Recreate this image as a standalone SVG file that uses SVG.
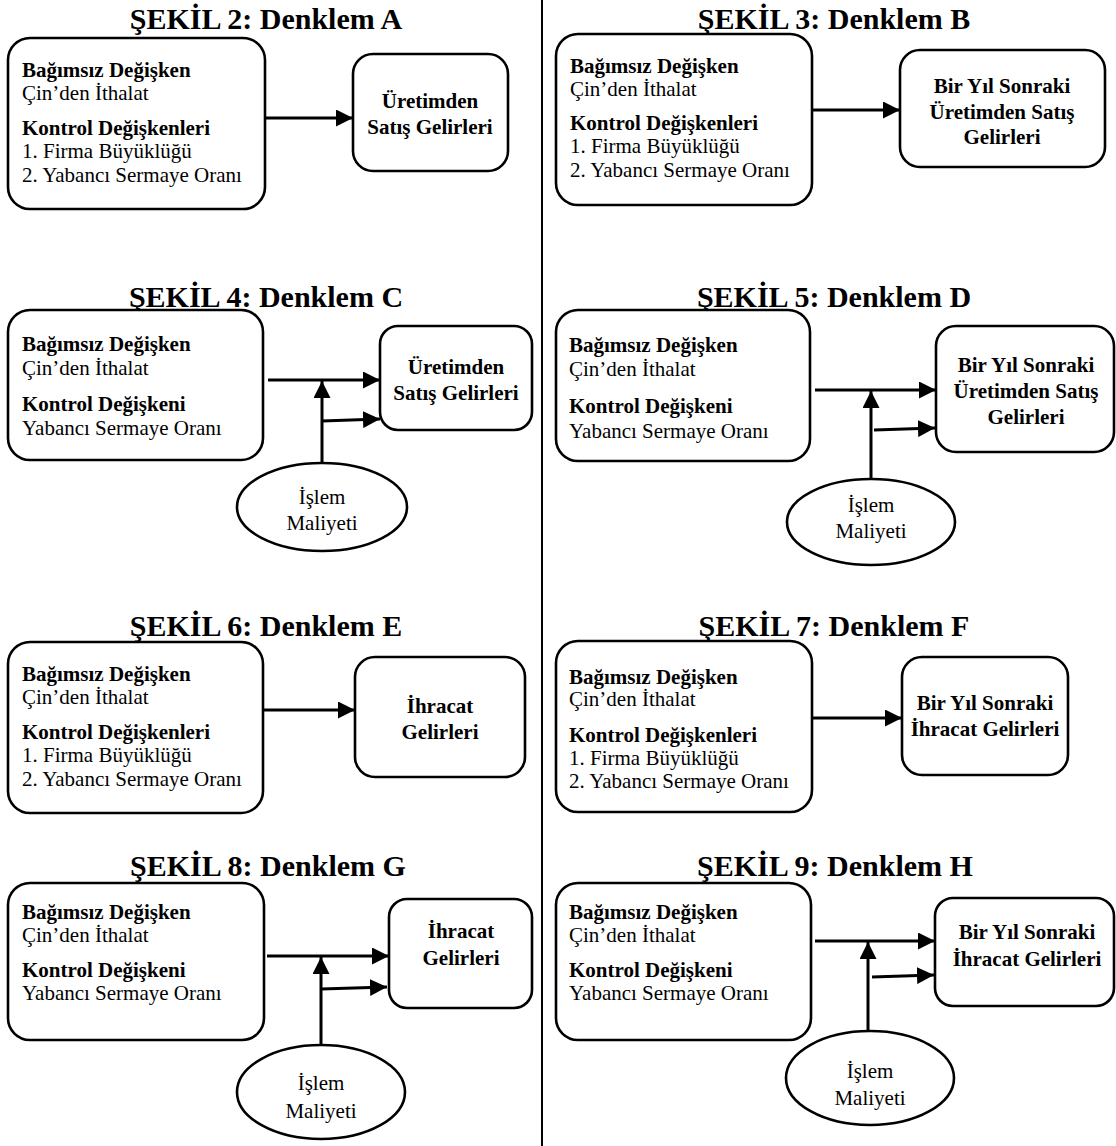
<svg xmlns="http://www.w3.org/2000/svg" width="1116" height="1146" viewBox="0 0 1116 1146">
<style>
.bg{fill:#fff}
.box{fill:#fff;stroke:#000;stroke-width:2.6}
.title{font-family:"Liberation Serif","Times New Roman",serif;font-weight:bold;font-size:30px;text-anchor:middle;fill:#000}
.b{font-family:"Liberation Serif","Times New Roman",serif;font-weight:bold;font-size:21px;fill:#000}
.r{font-family:"Liberation Serif","Times New Roman",serif;font-size:21px;fill:#000}
.c{text-anchor:middle}
.conn line{stroke:#000;stroke-width:3;fill:none}
.div{stroke:#000;stroke-width:2}
</style>
<defs>
<marker id="ah" markerUnits="userSpaceOnUse" markerWidth="17" markerHeight="17" refX="17" refY="8.5" orient="auto">
<path d="M0,0 L17,8.5 L0,17 z" fill="#000"/>
</marker>
</defs>
<rect class="bg" x="0" y="0" width="1116" height="1146"/>
<line class="div" x1="542" y1="0" x2="542" y2="1146"/>

<!-- Row 1 left: A -->
<text class="title" x="266" y="29">ŞEKİL 2: Denklem A</text>
<g id="A-src">
<rect class="box" x="8" y="38" width="257" height="171" rx="22"/>
<text class="b" x="22" y="77">Bağımsız Değişken</text>
<text class="r" x="22" y="100">Çin’den İthalat</text>
<text class="b" x="22" y="135">Kontrol Değişkenleri</text>
<text class="r" x="22" y="158">1. Firma Büyüklüğü</text>
<text class="r" x="22" y="182">2. Yabancı Sermaye Oranı</text>
</g>
<g id="A-dst">
<rect class="box" x="353" y="54" width="155" height="117" rx="20"/>
<text class="b c" x="430" y="108">Üretimden</text>
<text class="b c" x="430" y="134">Satış Gelirleri</text>
</g>

<!-- Row 1 right: B -->
<text class="title" x="834" y="29">ŞEKİL 3: Denklem B</text>
<g id="B-src">
<rect class="box" x="556" y="34" width="256" height="171" rx="22"/>
<text class="b" x="570" y="73">Bağımsız Değişken</text>
<text class="r" x="570" y="96">Çin’den İthalat</text>
<text class="b" x="570" y="130">Kontrol Değişkenleri</text>
<text class="r" x="570" y="153">1. Firma Büyüklüğü</text>
<text class="r" x="570" y="177">2. Yabancı Sermaye Oranı</text>
</g>
<g id="B-dst">
<rect class="box" x="900" y="50" width="205" height="117" rx="20"/>
<text class="b c" x="1002" y="93">Bir Yıl Sonraki</text>
<text class="b c" x="1002" y="119">Üretimden Satış</text>
<text class="b c" x="1002" y="144">Gelirleri</text>
</g>

<!-- Row 2 left: C -->
<text class="title" x="266" y="307">ŞEKİL 4: Denklem C</text>
<g id="C-src">
<rect class="box" x="8" y="310" width="255" height="150" rx="22"/>
<text class="b" x="22" y="351">Bağımsız Değişken</text>
<text class="r" x="22" y="375">Çin’den İthalat</text>
<text class="b" x="22" y="411">Kontrol Değişkeni</text>
<text class="r" x="22" y="435">Yabancı Sermaye Oranı</text>
</g>
<g id="C-dst">
<rect class="box" x="380" y="326" width="152" height="104" rx="18"/>
<text class="b c" x="456" y="374">Üretimden</text>
<text class="b c" x="456" y="400">Satış Gelirleri</text>
</g>
<g id="C-mod">
<ellipse class="box" cx="322" cy="507" rx="85" ry="44"/>
<text class="r c" x="322" y="504">İşlem</text>
<text class="r c" x="322" y="530">Maliyeti</text>
</g>

<!-- Row 2 right: D -->
<text class="title" x="834" y="307">ŞEKİL 5: Denklem D</text>
<g id="D-src">
<rect class="box" x="556" y="310" width="254" height="151" rx="22"/>
<text class="b" x="569" y="352">Bağımsız Değişken</text>
<text class="r" x="569" y="376">Çin’den İthalat</text>
<text class="b" x="569" y="413">Kontrol Değişkeni</text>
<text class="r" x="569" y="438">Yabancı Sermaye Oranı</text>
</g>
<g id="D-dst">
<rect class="box" x="936" y="326" width="178" height="126" rx="20"/>
<text class="b c" x="1026" y="372">Bir Yıl Sonraki</text>
<text class="b c" x="1026" y="398">Üretimden Satış</text>
<text class="b c" x="1026" y="424">Gelirleri</text>
</g>
<g id="D-mod">
<ellipse class="box" cx="871" cy="522" rx="84" ry="43"/>
<text class="r c" x="871" y="512">İşlem</text>
<text class="r c" x="871" y="538">Maliyeti</text>
</g>

<!-- Row 3 left: E -->
<text class="title" x="266" y="636">ŞEKİL 6: Denklem E</text>
<g id="E-src">
<rect class="box" x="8" y="642" width="255" height="171" rx="22"/>
<text class="b" x="22" y="681">Bağımsız Değişken</text>
<text class="r" x="22" y="704">Çin’den İthalat</text>
<text class="b" x="22" y="739">Kontrol Değişkenleri</text>
<text class="r" x="22" y="762">1. Firma Büyüklüğü</text>
<text class="r" x="22" y="786">2. Yabancı Sermaye Oranı</text>
</g>
<g id="E-dst">
<rect class="box" x="355" y="657" width="170" height="120" rx="20"/>
<text class="b c" x="440" y="713">İhracat</text>
<text class="b c" x="440" y="739">Gelirleri</text>
</g>

<!-- Row 3 right: F -->
<text class="title" x="834" y="636">ŞEKİL 7: Denklem F</text>
<g id="F-src">
<rect class="box" x="556" y="641" width="256" height="171" rx="22"/>
<text class="b" x="569" y="684">Bağımsız Değişken</text>
<text class="r" x="569" y="706">Çin’den İthalat</text>
<text class="b" x="569" y="742">Kontrol Değişkenleri</text>
<text class="r" x="569" y="765">1. Firma Büyüklüğü</text>
<text class="r" x="569" y="788">2. Yabancı Sermaye Oranı</text>
</g>
<g id="F-dst">
<rect class="box" x="902" y="657" width="166" height="118" rx="20"/>
<text class="b c" x="985" y="710">Bir Yıl Sonraki</text>
<text class="b c" x="985" y="736">İhracat Gelirleri</text>
</g>

<!-- Row 4 left: G -->
<text class="title" x="268" y="876">ŞEKİL 8: Denklem G</text>
<g id="G-src">
<rect class="box" x="8" y="883" width="256" height="157" rx="22"/>
<text class="b" x="22" y="919">Bağımsız Değişken</text>
<text class="r" x="22" y="942">Çin’den İthalat</text>
<text class="b" x="22" y="977">Kontrol Değişkeni</text>
<text class="r" x="22" y="1000">Yabancı Sermaye Oranı</text>
</g>
<g id="G-dst">
<rect class="box" x="389" y="899" width="143" height="109" rx="18"/>
<text class="b c" x="461" y="938">İhracat</text>
<text class="b c" x="461" y="965">Gelirleri</text>
</g>
<g id="G-mod">
<ellipse class="box" cx="321" cy="1092" rx="84" ry="47"/>
<text class="r c" x="321" y="1090">İşlem</text>
<text class="r c" x="321" y="1118">Maliyeti</text>
</g>

<!-- Row 4 right: H -->
<text class="title" x="835" y="876">ŞEKİL 9: Denklem H</text>
<g id="H-src">
<rect class="box" x="556" y="883" width="255" height="157" rx="22"/>
<text class="b" x="569" y="919">Bağımsız Değişken</text>
<text class="r" x="569" y="942">Çin’den İthalat</text>
<text class="b" x="569" y="977">Kontrol Değişkeni</text>
<text class="r" x="569" y="1000">Yabancı Sermaye Oranı</text>
</g>
<g id="H-dst">
<rect class="box" x="935" y="898" width="179" height="108" rx="18"/>
<text class="b c" x="1027" y="939">Bir Yıl Sonraki</text>
<text class="b c" x="1027" y="966">İhracat Gelirleri</text>
</g>
<g id="H-mod">
<ellipse class="box" cx="870" cy="1078" rx="84" ry="47"/>
<text class="r c" x="870" y="1078">İşlem</text>
<text class="r c" x="870" y="1105">Maliyeti</text>
</g>

<g id="connectors" class="conn">
<line x1="265" y1="118" x2="353" y2="118" marker-end="url(#ah)"/>
<line x1="812" y1="110" x2="900" y2="110" marker-end="url(#ah)"/>
<line x1="268" y1="380" x2="380" y2="380" marker-end="url(#ah)"/>
<line x1="322" y1="463" x2="322" y2="381" marker-end="url(#ah)"/>
<line x1="322" y1="421" x2="380" y2="419" marker-end="url(#ah)"/>
<line x1="815" y1="390" x2="936" y2="390" marker-end="url(#ah)"/>
<line x1="871" y1="479" x2="871" y2="391" marker-end="url(#ah)"/>
<line x1="874" y1="430" x2="935" y2="428" marker-end="url(#ah)"/>
<line x1="263" y1="710" x2="355" y2="710" marker-end="url(#ah)"/>
<line x1="812" y1="718" x2="902" y2="718" marker-end="url(#ah)"/>
<line x1="267" y1="956" x2="389" y2="956" marker-end="url(#ah)"/>
<line x1="321" y1="1045" x2="321" y2="957" marker-end="url(#ah)"/>
<line x1="321" y1="989" x2="387" y2="987" marker-end="url(#ah)"/>
<line x1="815" y1="941" x2="935" y2="941" marker-end="url(#ah)"/>
<line x1="868" y1="1031" x2="868" y2="942" marker-end="url(#ah)"/>
<line x1="872" y1="977" x2="934" y2="975" marker-end="url(#ah)"/>
</g>
</svg>
